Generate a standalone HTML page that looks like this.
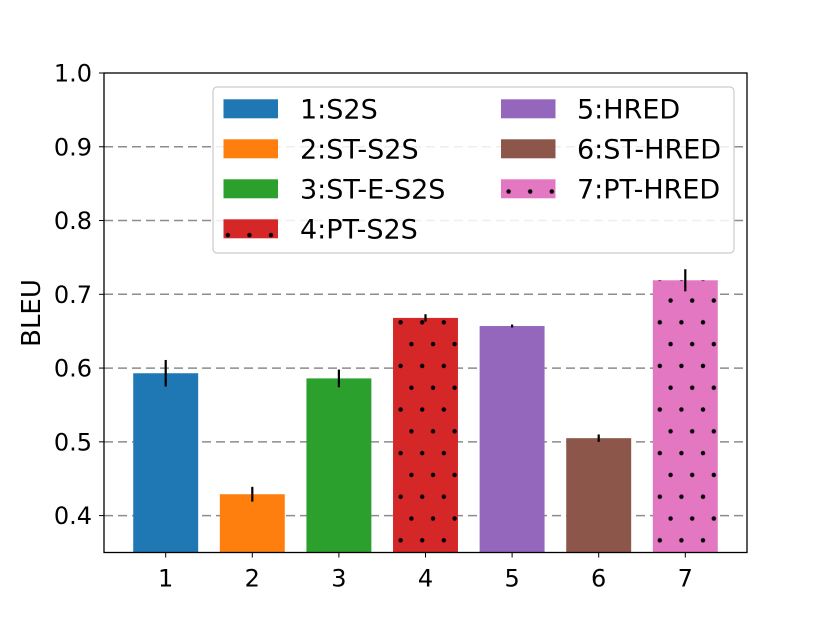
<!DOCTYPE html>
<html><head><meta charset="utf-8"><style>
html,body{margin:0;padding:0;background:#fff;}
svg{display:block;font-family:"DejaVu Sans","Liberation Sans",sans-serif;}
</style></head><body>
<svg id="chart" width="830" height="622" viewBox="0 0 830 622">
<defs>
<pattern id="dots" patternUnits="userSpaceOnUse" x="400.6" y="322.3" width="21.6" height="43.6">
<circle cx="0" cy="0" r="2.2" fill="#000"/><circle cx="21.6" cy="0" r="2.2" fill="#000"/>
<circle cx="0" cy="43.6" r="2.2" fill="#000"/><circle cx="21.6" cy="43.6" r="2.2" fill="#000"/>
<circle cx="10.8" cy="21.8" r="2.2" fill="#000"/>
</pattern>
</defs>
<g id="grid"></g>
<g id="bars"></g>
<g id="axes"></g>
<g id="legend"></g>
</svg>
<script>
const categories = ["1","2","3","4","5","6","7"];
const labels = ["1:S2S","2:ST-S2S","3:ST-E-S2S","4:PT-S2S","5:HRED","6:ST-HRED","7:PT-HRED"];
const values = [0.593, 0.429, 0.586, 0.668, 0.657, 0.505, 0.719];
const errors = [0.018, 0.010, 0.012, 0.005, 0.002, 0.005, 0.015];
const colors = ["#1f77b4","#ff7f0e","#2ca02c","#d62728","#9467bd","#8c564b","#e377c2"];
const hatched = [false,false,false,true,false,false,true];
const yTicks = [0.4,0.5,0.6,0.7,0.8,0.9,1.0];

const NS="http://www.w3.org/2000/svg";
const L=104,R=747,T=73,B=552.5;
const xMin=0.2875,xMax=7.7125,yMin=0.35,yMax=1.0;
const xs=v=>L+(v-xMin)/(xMax-xMin)*(R-L);
const ys=v=>B-(v-yMin)/(yMax-yMin)*(B-T);
function mk(tag,attrs,parent){const e=document.createElementNS(NS,tag);for(const k in attrs)e.setAttribute(k,attrs[k]);parent.appendChild(e);return e;}
const grid=document.getElementById('grid'),bars=document.getElementById('bars'),axes=document.getElementById('axes'),leg=document.getElementById('legend');

yTicks.forEach(t=>{
  const y=ys(t);
  if(t<1.0){const g=mk('line',{x1:L,x2:R,y1:y,y2:y,stroke:'#8c8c8c','stroke-width':1.5,'stroke-dasharray':'9,5'},grid);
  
  }
  mk('line',{x1:L-5,x2:L,y1:y,y2:y,stroke:'#000','stroke-width':1},axes);
  const tx=mk('text',{x:L-12,y:y+8.5,'text-anchor':'end','font-size':24,fill:'#000'},axes);
  tx.textContent=t.toFixed(1);
  
  
});

const bw=0.75;
categories.forEach((c,i)=>{
  const x=i+1, x0=xs(x-bw/2), x1=xs(x+bw/2), y=ys(values[i]);
  const r=mk('rect',{x:x0,y:y,width:x1-x0,height:B-y,fill:colors[i]},bars);
  
  
  if(hatched[i]){mk('rect',{x:x0,y:y,width:x1-x0,height:B-y,fill:'url(#dots)'},bars);}
  const e=mk('line',{x1:xs(x),x2:xs(x),y1:ys(values[i]+errors[i]),y2:ys(values[i]-errors[i]),stroke:'#000','stroke-width':2.2},bars);
  
  
  mk('line',{x1:xs(x),x2:xs(x),y1:B,y2:B+5,stroke:'#000','stroke-width':1},axes);
  const tx=mk('text',{x:xs(x),y:B+34,'text-anchor':'middle','font-size':24,fill:'#000'},axes);
  tx.textContent=c;
  
  
});

const fr=mk('rect',{x:L,y:T,width:R-L,height:B-T,fill:'none',stroke:'#000','stroke-width':1.3},axes);


const yl=mk('text',{x:0,y:0,transform:'translate(40,313) rotate(-90)','text-anchor':'middle','font-size':26,fill:'#000'},axes);
yl.textContent='BLEU';



const lb=mk('rect',{x:213,y:87,width:521,height:166,rx:4,fill:'#fff','fill-opacity':0.85,stroke:'#ccc','stroke-width':1.2},leg);


labels.forEach((lab,i)=>{
  const col=i<4?0:1,row=i<4?i:i-4;
  const hx=col?501:223.5,tx=col?577:300,hy=99.3+row*40;
  const g=mk('g',{},leg);
  
  
  mk('rect',{x:hx,y:hy,width:54.5,height:19,fill:colors[i]},g);
  if(hatched[i]) mk('rect',{x:hx,y:hy,width:54.5,height:19,fill:'url(#dots)'},g);
  const t=mk('text',{x:tx,y:hy+19,'font-size':27,fill:'#000'},g);
  t.textContent=lab;
});
</script>
</body></html>
